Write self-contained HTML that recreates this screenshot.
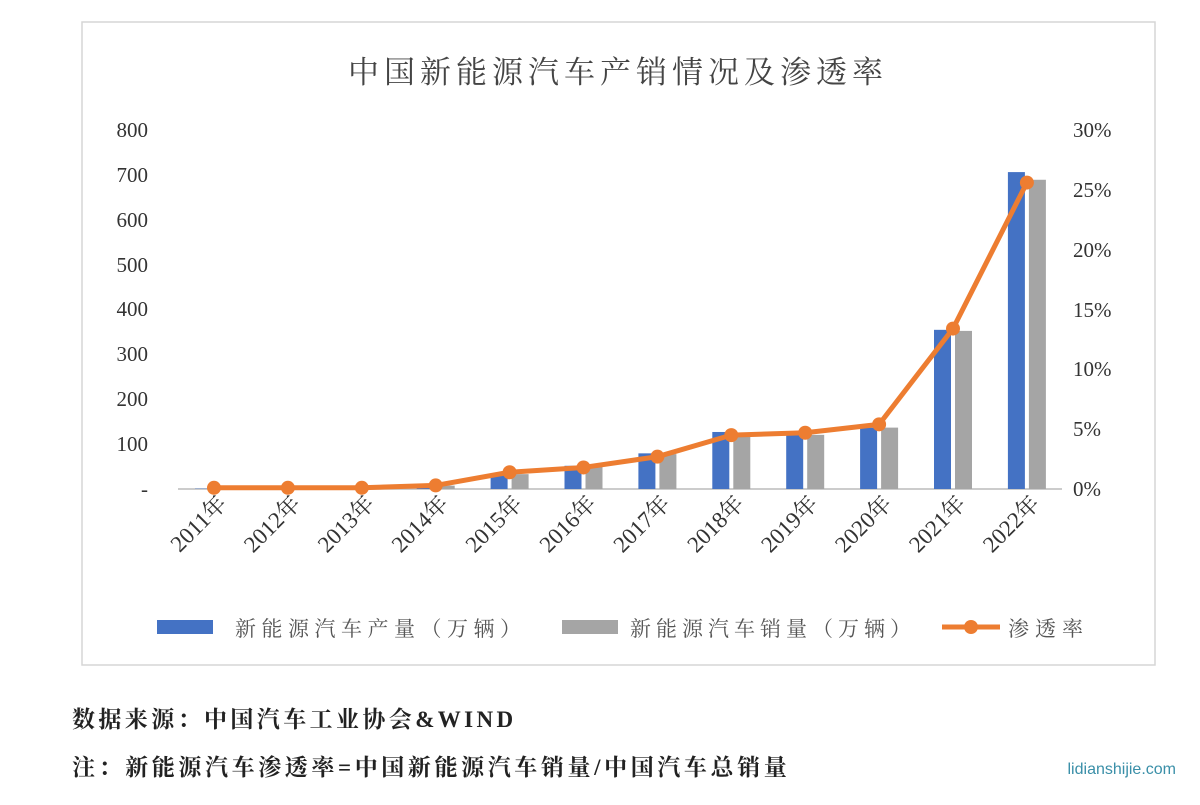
<!DOCTYPE html>
<html><head><meta charset="utf-8"><style>
body{margin:0;background:#fff;width:1200px;height:800px;overflow:hidden;font-family:"Liberation Serif","Noto Serif CJK SC",serif}
</style></head><body>
<svg width="1200" height="800" xmlns="http://www.w3.org/2000/svg" font-family="Liberation Serif, Noto Serif CJK SC, serif">
<rect x="82" y="22" width="1073" height="643" fill="#fff" stroke="#d6d6d6" stroke-width="1.5"/>
<text x="618" y="83" font-size="31" fill="#444" text-anchor="middle" letter-spacing="5">中国新能源汽车产销情况及渗透率</text>
<g font-size="21" fill="#333" text-anchor="end">
<text x="148" y="137">800</text><text x="148" y="182">700</text><text x="148" y="227">600</text><text x="148" y="272">500</text><text x="148" y="316">400</text><text x="148" y="361">300</text><text x="148" y="406">200</text><text x="148" y="451">100</text><text x="148" y="496">-</text>
</g>
<g font-size="21" fill="#333">
<text x="1073" y="137">30%</text><text x="1073" y="197">25%</text><text x="1073" y="257">20%</text><text x="1073" y="317">15%</text><text x="1073" y="376">10%</text><text x="1073" y="436">5%</text><text x="1073" y="496">0%</text>
</g>
<line x1="178" y1="489" x2="1062" y2="489" stroke="#bbb" stroke-width="1.5"/>
<g id="bars"></g>
<g id="xl" font-size="23" fill="#333"></g>
<polyline id="ln" fill="none" stroke="#ed7d31" stroke-width="5" stroke-linejoin="round"/>
<g id="dots" fill="#ed7d31"></g>
<rect x="157" y="620" width="56" height="14" fill="#4472c4"/>
<text x="235" y="636" font-size="21" fill="#555" letter-spacing="5.5">新能源汽车产量（万辆）</text>
<rect x="562" y="620" width="56" height="14" fill="#a5a5a5"/>
<text x="630" y="636" font-size="21" fill="#555" letter-spacing="5">新能源汽车销量（万辆）</text>
<line x1="942" y1="627" x2="1000" y2="627" stroke="#ed7d31" stroke-width="5"/>
<circle cx="971" cy="627" r="7" fill="#ed7d31"/>
<text x="1008" y="636" font-size="21" fill="#555" letter-spacing="6">渗透率</text>
<text x="72" y="727" font-size="23" font-weight="bold" fill="#222" letter-spacing="3.4">数据来源：中国汽车工业协会&amp;WIND</text>
<text x="72" y="775" font-size="23" font-weight="bold" fill="#222" letter-spacing="3.6">注：新能源汽车渗透率=中国新能源汽车销量/中国汽车总销量</text>
<text x="1176" y="774" font-size="16" fill="#3a8fa8" text-anchor="end" font-family="Liberation Sans, sans-serif">lidianshijie.com</text>
</svg>
<script>
const P=[0.8,1.3,1.8,7.9,34,51.7,79.4,127,124,136.6,354.5,705.8];
const S=[0.8,1.3,1.8,7.5,33.1,50.7,77.7,125.6,120.6,136.7,352.1,688.7];
const R=[0.1,0.1,0.1,0.3,1.4,1.8,2.7,4.5,4.7,5.4,13.4,25.6];
let b=document.getElementById('bars'),xl=document.getElementById('xl'),d=document.getElementById('dots'),pts=[];
for(let i=0;i<12;i++){const c=214+i*73.9;
 const hp=P[i]*0.449,hs=S[i]*0.449;
 b.insertAdjacentHTML('beforeend',`<rect x="${c-19}" y="${489-hp}" width="17" height="${hp}" fill="#4472c4"/><rect x="${c+2}" y="${489-hs}" width="17" height="${hs}" fill="#a5a5a5"/>`);
 const y=489-R[i]*11.97;pts.push(c+','+y);
 d.insertAdjacentHTML('beforeend',`<circle cx="${c}" cy="${y}" r="7"/>`);
 xl.insertAdjacentHTML('beforeend',`<text transform="translate(${c+14},505) rotate(-45)" text-anchor="end">${2011+i}年</text>`);
}
document.getElementById('ln').setAttribute('points',pts.join(' '));
</script>
</body></html>
